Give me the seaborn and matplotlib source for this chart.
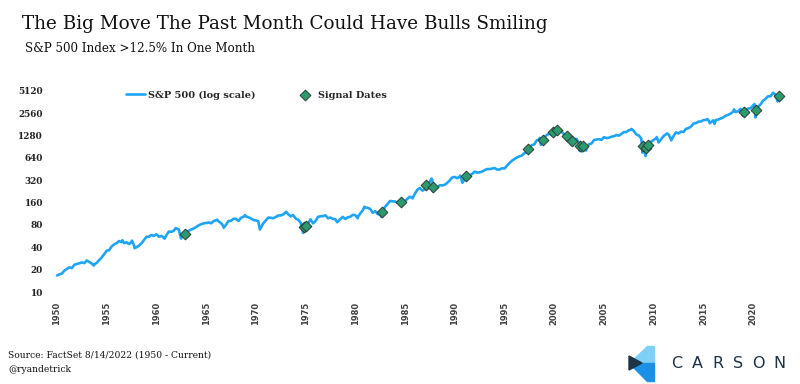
import numpy as np
import pandas as pd
import matplotlib
matplotlib.use("Agg")
import matplotlib.pyplot as plt
import seaborn as sns
from matplotlib.patches import Polygon
from matplotlib.ticker import FixedLocator, FixedFormatter, NullLocator

# S&P 500 quarter-end closes (Mar, Jun, Sep, Dec), from Mar 1950
quarter_closes = [
    17.29, 17.69, 19.45, 20.41, 21.48, 20.96, 23.26, 23.77,
    24.37, 24.96, 24.54, 26.57, 25.29, 24.14, 23.35, 24.81,
    26.94, 29.21, 32.31, 35.98, 36.58, 41.03, 43.67, 45.48,
    48.48, 46.97, 45.35, 46.67, 44.11, 47.37, 42.42, 39.99,
    42.10, 45.24, 50.06, 55.21, 55.44, 58.47, 56.88, 59.89,
    55.34, 56.92, 53.52, 58.11, 65.06, 64.64, 66.73, 71.55,
    69.55, 54.75, 56.27, 63.10, 66.57, 69.37, 71.70, 75.02,
    78.98, 81.69, 84.18, 84.75, 86.16, 84.12, 89.96, 92.43,
    89.23, 84.74, 76.56, 80.33, 90.20, 90.64, 96.71, 96.47,
    90.20, 99.58, 102.67, 103.86, 101.51, 97.71, 93.12, 92.06,
    89.63, 72.72, 84.21, 92.15, 100.31, 99.70, 98.34, 102.09,
    107.20, 107.14, 110.55, 118.05, 111.52, 104.26, 108.43, 97.55,
    93.98, 86.00, 63.54, 68.56, 83.36, 95.19, 83.87, 90.19,
    102.77, 104.28, 105.24, 107.46, 98.42, 100.48, 96.53, 95.10,
    89.21, 95.53, 102.54, 96.11, 101.59, 102.91, 109.32, 107.94,
    102.09, 114.24, 125.46, 135.76, 136.00, 131.21, 116.18, 122.55,
    111.96, 109.61, 120.42, 140.64, 152.96, 168.11, 166.07, 164.93,
    159.18, 153.18, 166.10, 167.24, 180.66, 191.85, 182.08, 211.28,
    238.90, 250.84, 231.32, 242.17, 291.70, 304.00, 321.83, 247.08,
    258.89, 273.50, 271.91, 277.72, 294.87, 317.98, 349.15, 353.40,
    339.94, 358.02, 306.05, 330.22, 375.22, 371.16, 387.86, 417.09,
    403.69, 408.14, 417.80, 435.71, 451.67, 450.53, 458.93, 466.45,
    445.77, 444.27, 462.69, 459.27, 500.71, 544.75, 584.41, 615.93,
    645.50, 670.63, 687.31, 740.74, 757.12, 885.14, 947.28, 970.43,
    1101.75, 1133.84, 1017.01, 1229.23, 1286.37, 1372.71, 1282.71, 1469.25,
    1498.58, 1454.60, 1436.51, 1320.28, 1160.33, 1224.42, 1040.94, 1148.08,
    1147.39, 989.82, 815.28, 879.82, 848.18, 974.50, 995.97, 1111.92,
    1126.21, 1140.84, 1114.58, 1211.92, 1180.59, 1191.33, 1228.81, 1248.29,
    1294.83, 1270.20, 1335.85, 1418.30, 1420.86, 1503.35, 1526.75, 1468.36,
    1322.70, 1280.00, 1166.36, 903.25, 797.87, 919.32, 1057.08, 1115.10,
    1169.43, 1030.71, 1141.20, 1257.64, 1325.83, 1320.64, 1131.42, 1257.60,
    1408.47, 1362.16, 1440.67, 1426.19, 1569.19, 1606.28, 1681.55, 1848.36,
    1872.34, 1960.23, 1972.29, 2058.90, 2067.89, 2063.11, 1920.03, 2043.94,
    2059.74, 2098.86, 2168.27, 2238.83, 2362.72, 2423.41, 2519.36, 2673.61,
    2640.87, 2718.37, 2913.98, 2506.85, 2834.40, 2941.76, 2976.74, 3230.78,
    2584.59, 3100.29, 3363.00, 3756.07, 3972.89, 4297.50, 4307.54, 4766.18,
    4530.41, 3785.38,
]

# intra-quarter highs / lows
extra_dates = [
    "1950-01-03", "1953-09-14", "1956-08-02", "1957-07-15", "1957-10-22",
    "1960-10-25", "1961-12-12", "1962-06-26", "1966-02-09", "1966-10-07",
    "1968-11-29", "1970-05-26", "1973-01-11", "1974-10-03", "1974-12-06",
    "1978-03-06", "1980-03-27", "1980-11-28", "1982-08-12", "1987-08-25",
    "1987-10-19", "1990-07-16", "1990-10-11", "1998-07-17", "1998-08-31",
    "2001-04-04", "2001-09-21", "2002-07-23", "2002-10-09", "2003-03-11",
    "2007-10-09", "2008-11-20", "2009-03-09", "2010-04-23", "2011-04-29",
    "2011-10-03", "2015-05-21", "2015-08-25", "2016-02-11", "2018-01-26",
    "2018-12-24", "2020-02-19", "2020-03-23", "2022-01-03", "2022-06-16",
]
extra_values = [
    16.66, 22.71, 49.74, 49.13, 38.98,
    52.30, 72.64, 52.32, 94.06, 73.20,
    108.37, 69.29, 120.24, 62.28, 65.01,
    86.90, 98.22, 140.52, 102.42, 336.77,
    224.84, 368.95, 295.46, 1186.75, 957.28,
    1103.25, 965.80, 797.70, 776.76, 800.73,
    1565.15, 752.44, 676.53, 1217.28, 1363.61,
    1099.23, 2130.82, 1867.61, 1829.08, 2872.87,
    2351.10, 3386.15, 2237.40, 4796.56, 3666.77,
]

# months with a >12.5% gain
signal_dates = [
    "1962-11-20", "1974-10-31", "1975-01-31", "1982-08-31", "1984-08-20",
    "1987-01-30", "1987-10-21", "1991-02-08", "1997-05-05", "1998-10-30",
    "1999-11-18", "2000-03-24", "2001-05-02", "2001-10-19", "2002-08-15",
    "2002-11-05", "2008-12-08", "2009-04-09", "2009-06-01", "2019-01-18",
    "2020-04-14", "2022-08-12",
]
signal_values = [
    61.0, 73.9, 76.98, 119.5, 164.0,
    274.08, 258.38, 359.35, 830.29, 1098.67,
    1424.9, 1527.46, 1266.0, 1073.5, 930.0,
    915.0, 909.7, 856.6, 942.9, 2670.71,
    2846.06, 4280.15,
]

y_ticks = [10, 20, 40, 80, 160, 320, 640, 1280, 2560, 5120]
x_ticks = list(range(1950, 2021, 5))


def dec_year(d):
    d = pd.to_datetime(pd.Series(d))
    return (d.dt.year + (d.dt.dayofyear - 1) / 365.25).to_numpy()


q_dates = pd.date_range("1950-03-31", periods=len(quarter_closes), freq="QE")
line_df = pd.DataFrame({
    "year": np.concatenate([dec_year(q_dates), dec_year(extra_dates), dec_year(signal_dates)]),
    "value": quarter_closes + extra_values + signal_values,
}).sort_values("year")
sig_df = pd.DataFrame({"year": dec_year(signal_dates), "value": signal_values})

sns.set_style("white")
serif = ["DejaVu Serif"]

fig = plt.figure(figsize=(8, 3.84), dpi=100)
ax = fig.add_axes([57 / 800, (384 - 292) / 384, 723 / 800, 201.3 / 384])

sns.lineplot(data=line_df, x="year", y="value", ax=ax, color="#1ea5f7",
             linewidth=1.9, label="S&P 500 (log scale)", sort=True)
sns.scatterplot(data=sig_df, x="year", y="value", ax=ax, marker="D", s=30,
                color="#2b9a6c", edgecolor="#2e3d38", linewidth=0.7,
                label="Signal Dates", zorder=5, clip_on=False)

ax.set_yscale("log", base=2)
ax.set_ylim(10, 5120)
ax.set_xlim(1950, 2022.7)
ax.yaxis.set_major_locator(FixedLocator(y_ticks))
ax.yaxis.set_major_formatter(FixedFormatter([str(v) for v in y_ticks]))
ax.yaxis.set_minor_locator(NullLocator())
ax.set_xticks(x_ticks)
ax.set_xticklabels([str(v) for v in x_ticks], rotation=90, fontsize=6,
                   fontweight="bold", color="#404040", family="DejaVu Sans")
for t in ax.get_yticklabels():
    t.set_family(serif)
    t.set_fontweight("bold")
    t.set_fontsize(6.4)
    t.set_color("#222222")
ax.tick_params(axis="both", length=0)
ax.tick_params(axis="y", pad=10)
ax.tick_params(axis="x", pad=7)
ax.set_xlabel("")
ax.set_ylabel("")
for s in ax.spines.values():
    s.set_visible(False)
for line in ax.lines:
    line.set_clip_on(False)

ax.legend(loc="center left", bbox_to_anchor=(0.083, 0.978), ncol=2, frameon=False,
          prop={"family": serif, "weight": "bold", "size": 7},
          handlelength=2.0, handletextpad=0.3, columnspacing=4.1)

fig.text(22 / 800, 1 - 24 / 384, "The Big Move The Past Month Could Have Bulls Smiling",
         family=serif, fontsize=13.2, va="center", ha="left", color="#111111")
fig.text(25 / 800, 1 - 49 / 384, "S&P 500 Index >12.5% In One Month",
         family=serif, fontsize=8.6, va="center", ha="left", color="#111111")
fig.text(8 / 800, 1 - 355 / 384, "Source: FactSet 8/14/2022 (1950 - Current)",
         family=serif, fontsize=6.6, va="center", ha="left", color="#111111")
fig.text(8 / 800, 1 - 369 / 384, "@ryandetrick",
         family=serif, fontsize=6.6, va="center", ha="left", color="#111111")

# CARSON logo
def px(pts):
    return [(x / 800, 1 - y / 384) for x, y in pts]

fig.add_artist(Polygon(px([(647, 346), (654, 346), (654, 363), (629, 363)]),
                       closed=True, color="#80cff6", transform=fig.transFigure))
fig.add_artist(Polygon(px([(629, 363), (654, 363), (654, 381), (647, 381)]),
                       closed=True, color="#1a90e6", transform=fig.transFigure))
fig.add_artist(Polygon(px([(629, 356), (642, 363), (629, 370)]),
                       closed=True, color="#1d3447", transform=fig.transFigure))
for i, ch in enumerate("CARSON"):
    fig.text((677 + i * 20.4) / 800, 1 - 363 / 384, ch, family="DejaVu Sans",
             fontsize=11.5, fontweight="medium", va="center", ha="center", color="#1d3447")

fig.savefig("out.png", dpi=100, facecolor="white")
